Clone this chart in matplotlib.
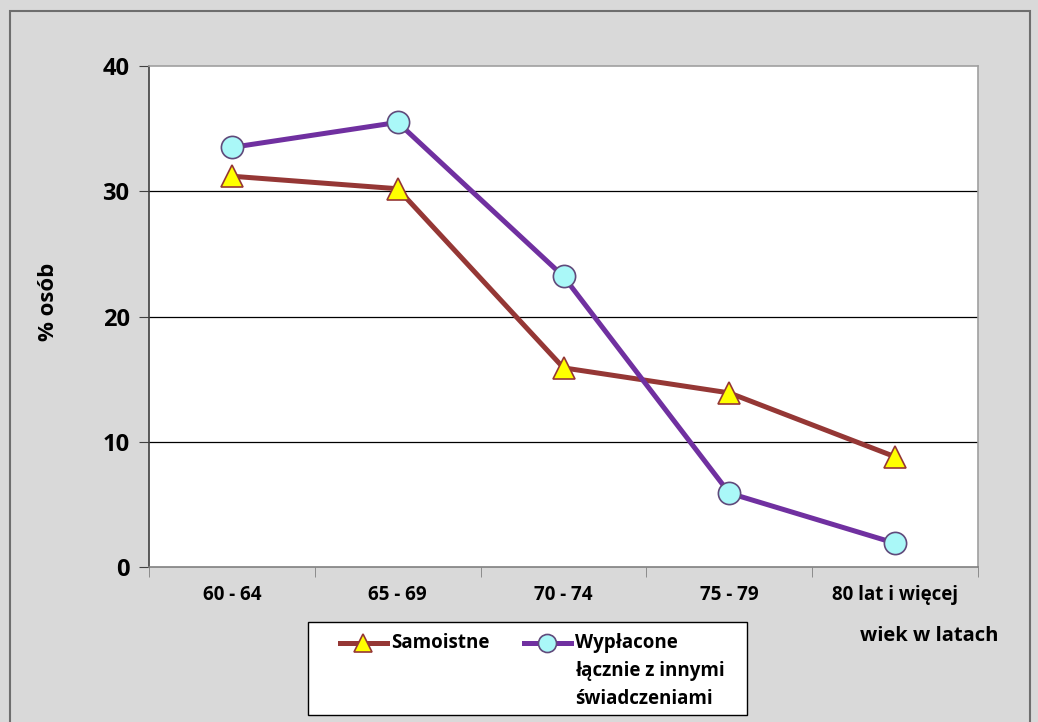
import matplotlib

matplotlib.use("Agg")

import matplotlib.pyplot as plt
from matplotlib.lines import Line2D
from matplotlib.patches import Rectangle

categories = ["60 - 64", "65 - 69", "70 - 74", "75 - 79", "80 lat i więcej"]
samoistne = [31.2, 30.2, 15.9, 13.9, 8.8]
wyplacone = [33.5, 35.5, 23.2, 5.9, 1.9]
y_ticks = [0, 10, 20, 30, 40]
series_labels = ["Samoistne", "Wypłacone\nłącznie z innymi\nświadczeniami"]

W, H = 1038, 722
plt.rcParams["font.family"] = ["Open Sans", "DejaVu Sans"]
plt.rcParams["font.weight"] = "bold"


def fx(px):
    return px / W


def fy(py):
    return 1 - py / H


figure = plt.figure(figsize=(W / 100, H / 100), dpi=100)
figure.patch.set_facecolor("#d9d9d9")
figure.patches.append(
    Rectangle(
        (fx(10), fy(730)), fx(1020), 719 / H,
        transform=figure.transFigure, fill=False,
        edgecolor="#6e6e6e", linewidth=1.5,
    )
)

axis = figure.add_axes([fx(149), fy(567), fx(829), 501 / H])
axis.set_facecolor("white")

styles = [
    dict(color="#953735", marker="^", markersize=16,
         markerfacecolor="#ffff00", markeredgecolor="#953735"),
    dict(color="#7030a0", marker="o", markersize=16,
         markerfacecolor="#aaf8f8", markeredgecolor="#604a7b"),
]

x = list(range(len(categories)))
for values, style in zip([samoistne, wyplacone], styles):
    axis.plot(x, values, linewidth=3.6, markeredgewidth=1.2, zorder=3, **style)

axis.set_xlim(-0.5, len(categories) - 0.5)
axis.set_ylim(0, 40)
axis.set_yticks(y_ticks)
axis.set_yticklabels([str(v) for v in y_ticks], fontsize=17, fontweight="bold")
axis.set_xticks(x)
axis.set_xticklabels(categories, fontsize=13.5, fontweight="bold")
axis.tick_params(axis="x", length=0, pad=13)
axis.set_xticks([i - 0.5 for i in range(len(categories) + 1)], minor=True)
axis.tick_params(axis="x", which="minor", length=7, color="#808080", direction="out")
axis.tick_params(axis="y", length=7, color="#404040", direction="out", pad=7)

for value in y_ticks[1:-1]:
    axis.axhline(value, color="black", linewidth=0.9, zorder=1)

for side in ("top", "right"):
    axis.spines[side].set_color("#a0a0a0")
    axis.spines[side].set_linewidth(1.2)
axis.spines["left"].set_color("#404040")
axis.spines["bottom"].set_color("#808080")
axis.spines["left"].set_linewidth(1.2)
axis.spines["bottom"].set_linewidth(1.2)

figure.text(fx(48), fy(302), "% osób", fontsize=16, fontweight="bold",
            rotation=90, ha="center", va="center")
figure.text(fx(929), fy(636), "wiek w latach", fontsize=14.5,
            fontweight="bold", ha="center", va="center")

# legend drawn by hand so the handle sits on the first text line
figure.patches.append(
    Rectangle(
        (fx(308), fy(715)), fx(439), 93 / H,
        transform=figure.transFigure, facecolor="white",
        edgecolor="black", linewidth=1.0,
    )
)
for left, label, style in zip([340, 524], series_labels, styles):
    handle = Line2D(
        [fx(left), fx(left + 23), fx(left + 47)], [fy(643)] * 3,
        transform=figure.transFigure, linewidth=3.6, markevery=[1],
        markeredgewidth=1.2, **{**style, "markersize": 13},
    )
    figure.add_artist(handle)
    figure.text(fx(left + 51), fy(633), label, fontsize=13.5, fontweight="bold",
                ha="left", va="top", linespacing=1.55)

figure.savefig("out.png", dpi=100, facecolor=figure.get_facecolor())
plt.close(figure)
